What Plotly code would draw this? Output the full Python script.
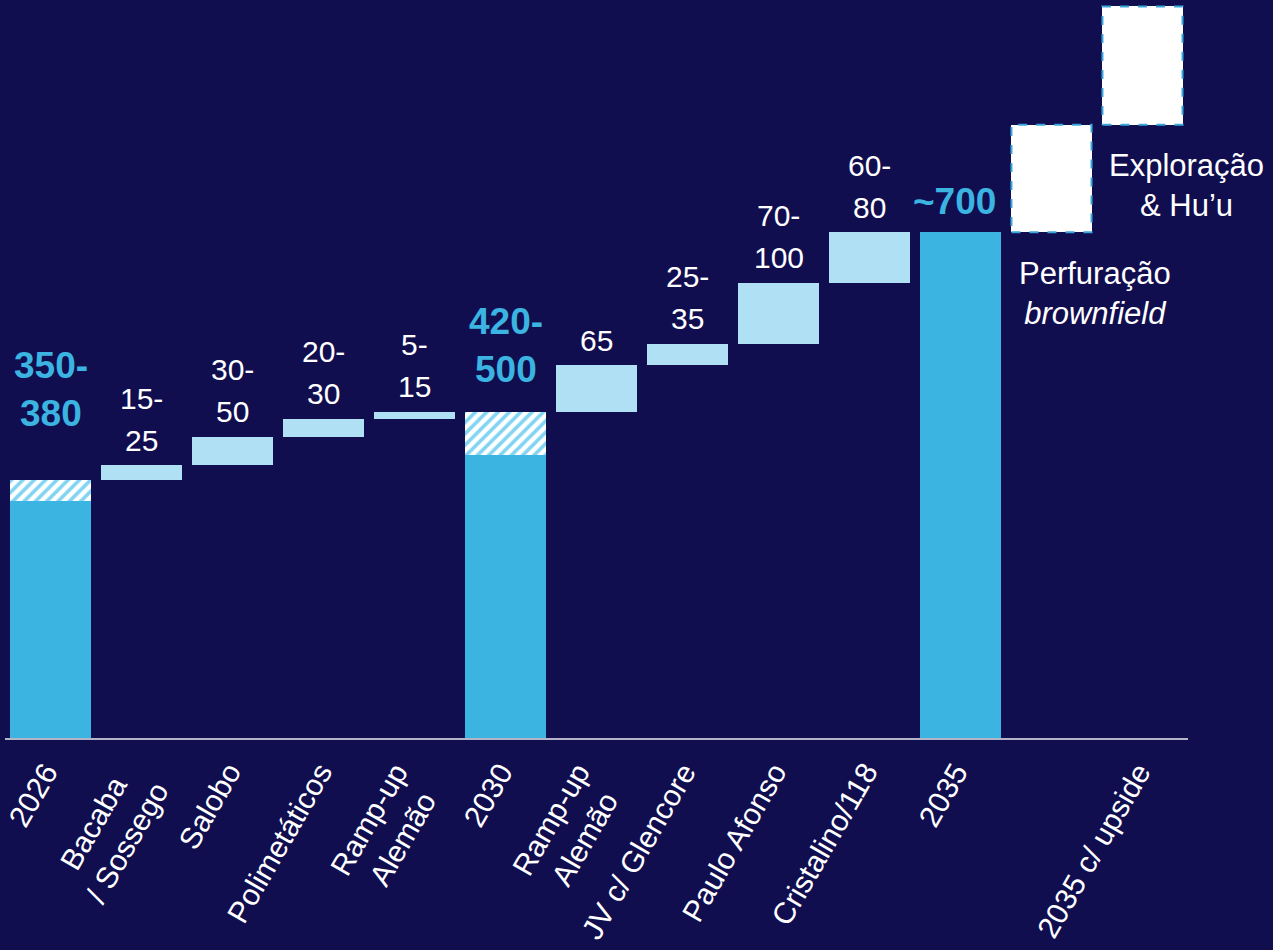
import plotly.graph_objects as go

# ---- data -------------------------------------------------------------
categories = ["2026", "Bacaba<br>/ Sossego", "Salobo", "Polimetáticos",
              "Ramp-up<br>Alemão", "2030", "Ramp-up<br>Alemão",
              "JV c/ Glencore", "Paulo Afonso", "Cristalino/118", "2035",
              "", "2035 c/ upside"]

base_2026 = 330          # firm production 2026
range_2026 = 30          # range band 2026 (350-380)
steps_2026_2030 = [20, 40, 25, 10]
step_labels_2026_2030 = ["15-<br>25", "30-<br>50", "20-<br>30", "5-<br>15"]

base_2030 = 395
range_2030 = 60          # range band 2030 (420-500)
steps_2030_2035 = [65, 30, 85, 70]
step_labels_2030_2035 = ["65", "25-<br>35", "70-<br>100", "60-<br>80"]

total_2035 = 705
upside_steps = [150, 165]
upside_labels = ["Perfuração<br><i>brownfield</i>", "Exploração<br>& Hu’u"]

total_labels = ["350-<br>380", "420-<br>500", "~700"]

# ---- styles -----------------------------------------------------------
BG = "#110e4f"
SOLID = "#3bb4e1"
LIGHT = "#afe0f4"
HATCH_FG = "#08a9e6"
WHITE = "#ffffff"
FONT = "Arial, Liberation Sans, sans-serif"
W = 0.88
TICK_ANGLE = -60

x_idx = list(range(len(categories)))

fig = go.Figure()

# solid totals
top_2026 = base_2026 + range_2026
top_2030 = base_2030 + range_2030
fig.add_trace(go.Bar(x=[0, 5, 10], y=[base_2026, base_2030, total_2035],
                     width=W, marker=dict(color=SOLID, line=dict(width=0)),
                     hoverinfo="skip"))

# hatched range bands
fig.add_trace(go.Bar(x=[0, 5], y=[range_2026, range_2030],
                     base=[base_2026, base_2030], width=W,
                     marker=dict(color=WHITE, line=dict(width=0),
                                 pattern=dict(shape="/", fgcolor=HATCH_FG,
                                              bgcolor=WHITE, size=8,
                                              solidity=0.45,
                                              fillmode="overlay")),
                     hoverinfo="skip"))

# floating increments
inc_x, inc_y, inc_base, inc_text = [], [], [], []
level = top_2026
for i, (s, t) in enumerate(zip(steps_2026_2030, step_labels_2026_2030)):
    inc_x.append(1 + i); inc_y.append(s); inc_base.append(level); inc_text.append(t)
    level += s
level = top_2030
for i, (s, t) in enumerate(zip(steps_2030_2035, step_labels_2030_2035)):
    inc_x.append(6 + i); inc_y.append(s); inc_base.append(level); inc_text.append(t)
    level += s

fig.add_trace(go.Bar(x=inc_x, y=inc_y, base=inc_base, width=W,
                     marker=dict(color=LIGHT, line=dict(width=0)),
                     hoverinfo="skip"))

# upside boxes (white fill, dashed outline)
up_x, up_base = [11, 12], []
level = total_2035
for s in upside_steps:
    up_base.append(level)
    level += s
fig.add_trace(go.Bar(x=up_x, y=upside_steps, base=up_base, width=W,
                     marker=dict(color=WHITE, line=dict(width=0)),
                     hoverinfo="skip"))
for xi, b, s in zip(up_x, up_base, upside_steps):
    x0, x1 = xi - W / 2, xi + W / 2
    fig.add_trace(go.Scatter(x=[x0, x1, x1, x0, x0], y=[b, b, b + s, b + s, b],
                             mode="lines", hoverinfo="skip",
                             line=dict(color="#3aa6dc", width=2, dash="dash")))


def stacked_label(x, y, text, first_gap, spacing, font, xshift=0):
    """Place each line of a label separately, bottom line first_gap px above y."""
    lines = text.split("<br>")
    n = len(lines)
    for k, line in enumerate(lines):
        fig.add_annotation(x=x, y=y, text=line, showarrow=False,
                           yanchor="middle", xshift=xshift,
                           yshift=first_gap + (n - 1 - k) * spacing,
                           font=font)


# value labels over increments
for xi, b, s, t in zip(inc_x, inc_base, inc_y, inc_text):
    stacked_label(xi, b + s, t, 25, 42,
                  dict(family=FONT, size=30, color=WHITE))

# total labels
total_x = [0, 5, 10]
total_tops = [top_2026, top_2030, total_2035]
total_gap = [66, 42, 31]
total_dx = [0, 0, -6]
for xi, yt, t, g, dx in zip(total_x, total_tops, total_labels, total_gap, total_dx):
    stacked_label(xi, yt, t, g, 48,
                  dict(family=FONT, size=37, color=SOLID, weight="bold"), dx)

# upside descriptions
fig.add_annotation(x=11.48, y=total_2035 - 85, text=upside_labels[0],
                   showarrow=False, yanchor="middle",
                   font=dict(family=FONT, size=31, color=WHITE))
fig.add_annotation(x=12.48, y=total_2035 + 65, text=upside_labels[1],
                   showarrow=False, yanchor="middle",
                   font=dict(family=FONT, size=31, color=WHITE))

# rotated category labels, centred multi-line blocks hanging below the axis
for xi, lab in zip(x_idx, categories):
    if not lab:
        continue
    n = lab.count("<br>") + 1
    fig.add_annotation(x=xi, y=0, text=lab, showarrow=False,
                       textangle=TICK_ANGLE, align="center",
                       xanchor="right", yanchor="top",
                       xshift=17 + 19 * (n - 1), yshift=-17,
                       font=dict(family=FONT, size=30, color=WHITE))

fig.update_layout(
    width=1273, height=950,
    paper_bgcolor=BG, plot_bgcolor=BG,
    margin=dict(l=5, r=85, t=0, b=212),
    barmode="overlay", bargap=0, showlegend=False,
    xaxis=dict(range=[-0.5, 12.5], tickmode="array", tickvals=x_idx,
               showticklabels=False, showgrid=False,
               zeroline=False, showline=True, linecolor="#b4b4c8",
               linewidth=2, ticks="", fixedrange=True),
    yaxis=dict(range=[0, 1029], visible=False, showgrid=False,
               zeroline=False, fixedrange=True),
)

fig.write_html("out.html")
